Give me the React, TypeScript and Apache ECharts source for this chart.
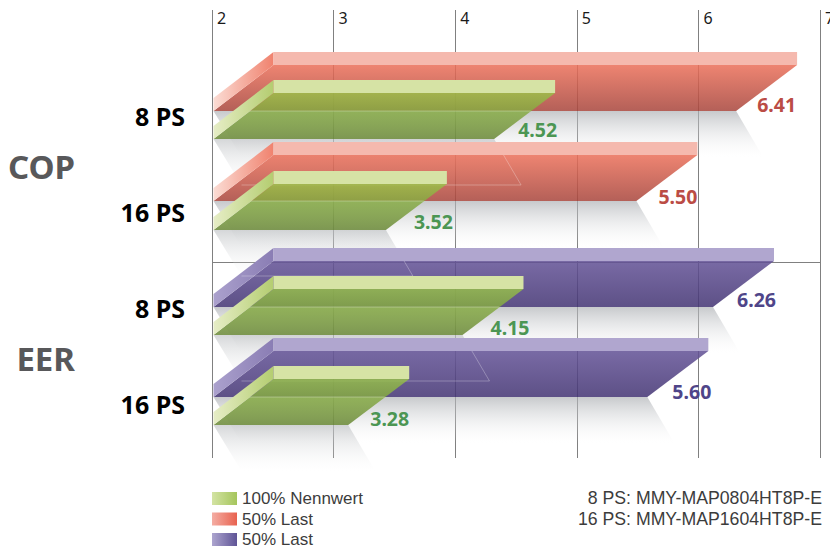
import React, { useEffect, useRef } from "react";
import * as echarts from "echarts";

const rows = ["8 PS", "16 PS", "8 PS", "16 PS"];
const groups = ["COP", "EER"];
const xTicksMin = 2;
const xTicksMax = 7;

// printed values
const copValues = [6.41, 5.5];
const eerValues = [6.26, 5.6];
const nominalValues = [4.52, 3.52, 4.15, 3.28];

// where the front edge of each bar ends on the axis
const copEnds = [6.31, 5.49];
const eerEnds = [6.12, 5.58];
const nominalEnds = [4.32, 3.43, 4.06, 3.12];

const legendNames = ["100% Nennwert", "50% Last", "50% Last"];
const notes = ["8 PS: MMY-MAP0804HT8P-E", "16 PS: MMY-MAP1604HT8P-E"];

// drawing constants
const DX = 60;
const DY = 46;
const LID = 13;
const LEFT_INSET = 1.5;
const backShift = [-5, -11, -1, -7];
const frontShift = [23, 18, 27, 21];
const backLabelAdj = [0, 1, 3, 4];
const frontLabelAdj = [3, 7, 7, 1];
const backLabelY = [-7, -5, -8, -6];
const frontLabelY = [-10, -9, -8, -7];
const FONT = '"Noto Sans"';
const LIGHT = '"Liberation Sans"';

const grad = (x2: number, y2: number, a: string, b: string) =>
  new echarts.graphic.LinearGradient(0, 0, x2, y2, [
    { offset: 0, color: a },
    { offset: 1, color: b },
  ]);

type Skin = {
  top: string;
  bottom: string;
  lid: string;
  sideA: string;
  sideB: string;
  label: string;
};
const redSkin: Skin = {
  top: "rgba(235,112,90,0.86)",
  bottom: "rgba(168,70,61,0.86)",
  lid: "#f5b9ae",
  sideA: "#fbdcd4",
  sideB: "#f0826e",
  label: "#bb4c45",
};
const purpleSkin: Skin = {
  top: "rgba(99,82,150,0.86)",
  bottom: "rgba(67,52,115,0.86)",
  lid: "#b0a6cf",
  sideA: "#aba1cd",
  sideB: "#8a7db4",
  label: "#4f4589",
};
const greenSkin: Skin = {
  top: "rgba(152,195,71,0.8)",
  bottom: "rgba(106,136,56,0.86)",
  lid: "#d6e3a5",
  sideA: "#e6edc6",
  sideB: "#b4cd70",
  label: "#4c9653",
};

function barFrame(api: any, row: number, end: number, shift: number) {
  const [endX, rowY] = api.coord([end, row]);
  const [startX] = api.coord([xTicksMin, row]);
  return { x0: startX + LEFT_INSET, x1: endX, y: rowY + shift };
}

function faces(f: { x0: number; x1: number; y: number }, s: Skin) {
  const { x0, x1, y } = f;
  return [
    {
      type: "polygon",
      shape: { points: [[x0, y], [x0 + DX, y - DY], [x1 + DX + 1, y - DY], [x1, y]] },
      style: { fill: grad(0, 1, s.top, s.bottom) },
    },
    {
      type: "polygon",
      shape: {
        points: [[x0, y - LID], [x0 + DX, y - DY - LID], [x0 + DX, y - DY], [x0, y]],
      },
      style: { fill: grad(1, 0, s.sideA, s.sideB) },
    },
    {
      type: "rect",
      shape: { x: x0 + DX, y: y - DY - LID, width: x1 - x0 + 1, height: LID },
      style: { fill: s.lid },
    },
  ];
}

function valueLabel(f: { x1: number; y: number }, text: string, color: string, adj: number, dy: number) {
  return {
    type: "text",
    style: {
      text,
      x: f.x1 + DX + adj,
      y: f.y + dy,
      fill: color,
      font: `bold 19.5px ${FONT}`,
      align: "right",
      verticalAlign: "middle",
    },
  };
}

const renderBack = (skin: Skin) => (_p: any, api: any) => {
  const row = api.value(0);
  const f = barFrame(api, row, api.value(1), backShift[row]);
  const children: any[] = faces(f, skin);
  if (row > 0) {
    // outline of the previous row's shadow, seen through this bar
    const prev = barFrame(api, row - 1, nominalEnds[row - 1], frontShift[row - 1]);
    const by = prev.y + DY;
    const yBack = f.y - DY;
    const t = (yBack - prev.y) / DY;
    children.push({
      type: "polyline",
      shape: {
        points: [
          [prev.x0 + 28, by],
          [prev.x1 + 27, by],
          [prev.x1 + 27 * t, yBack],
        ],
      },
      style: { fill: "none", stroke: "rgba(255,255,255,0.28)", lineWidth: 1 },
    });
  }
  children.push(valueLabel(f, api.value(2).toFixed(2), skin.label, backLabelAdj[row], backLabelY[row]));
  return { type: "group", children };
};

const renderFront = (_p: any, api: any) => {
  const row = api.value(0);
  const f = barFrame(api, row, api.value(1), frontShift[row]);
  const children: any[] = faces(f, greenSkin);
  // front edge of the bar behind, seen through the green one
  const backY = barFrame(api, row, xTicksMin, backShift[row]).y;
  const t = (f.y - backY) / DY;
  children.push({
    type: "line",
    shape: { x1: f.x0 + DX * t, y1: backY, x2: f.x1 + DX * t, y2: backY },
    style: { stroke: "rgba(255,255,255,0.3)", lineWidth: 1 },
  });
  children.push(valueLabel(f, api.value(2).toFixed(2), greenSkin.label, frontLabelAdj[row], frontLabelY[row]));
  return { type: "group", children };
};

const renderShadow = (_p: any, api: any) => {
  const row = api.value(0);
  const isFront = api.value(2) === 1;
  const shift = isFront ? frontShift[row] : backShift[row];
  const f = barFrame(api, row, api.value(1), shift);
  return {
    type: "polygon",
    shape: {
      points: [[f.x0, f.y], [f.x1, f.y], [f.x1 + 27, f.y + DY], [f.x0 + 28, f.y + DY]],
    },
    style: {
      fill: grad(
        0,
        1,
        isFront ? "rgba(185,188,191,0.6)" : "rgba(175,178,182,0.7)",
        "rgba(240,241,242,0)"
      ),
    },
  };
};

export default function App() {
  const ref = useRef<HTMLDivElement>(null);
  useEffect(() => {
    const chart = echarts.init(ref.current!, undefined, { renderer: "svg" });
    const cop = copEnds.map((e, i) => [i, e, copValues[i]]);
    const eer = eerEnds.map((e, i) => [i + 2, e, eerValues[i]]);
    const nominal = nominalEnds.map((e, i) => [i, e, nominalValues[i]]);
    const shadows = [
      ...copEnds.map((e, i) => [i, e, 0]),
      ...eerEnds.map((e, i) => [i + 2, e, 0]),
      ...nominalEnds.map((e, i) => [i, e, 1]),
    ];
    const common = {
      type: "custom",
      coordinateSystem: "cartesian2d",
      xAxisIndex: 1,
      yAxisIndex: 1,
      encode: { x: 1, y: 0 },
      silent: true,
    };
    chart.setOption({
      animation: false,
      backgroundColor: "#fff",
      grid: [
        { left: 212, top: 10, width: 608, height: 448, outerBoundsMode: "none" },
        { left: 212, top: 68, width: 608, height: 384, outerBoundsMode: "none" },
        { left: 212, top: 70, width: 608, height: 384, outerBoundsMode: "none" },
      ],
      xAxis: [
        {
          gridIndex: 0,
          type: "value",
          position: "top",
          min: xTicksMin,
          max: xTicksMax,
          interval: 1,
          axisLine: { show: false },
          axisTick: { show: false },
          splitLine: { show: true, lineStyle: { color: "#808080", width: 1 } },
          axisLabel: {
            inside: true,
            margin: 0,
            align: "left",
            padding: [0, 0, 0, 5],
            color: "#1a1a1a",
            fontFamily: FONT,
            fontSize: 16,
            showMinLabel: true,
            showMaxLabel: true,
          },
        },
        { gridIndex: 1, type: "value", min: xTicksMin, max: xTicksMax, show: false },
        { gridIndex: 2, type: "value", min: xTicksMin, max: xTicksMax, show: false },
      ],
      yAxis: [
        {
          gridIndex: 0,
          type: "value",
          inverse: true,
          min: 0,
          max: 16,
          interval: 9,
          axisLine: { show: false },
          axisTick: { show: false },
          axisLabel: { show: false },
          splitLine: {
            show: true,
            showMinLine: false,
            showMaxLine: false,
            lineStyle: { color: "#808080", width: 1 },
          },
        },
        {
          gridIndex: 1,
          type: "category",
          inverse: true,
          data: rows,
          axisLine: { show: false },
          axisTick: { show: false },
          splitLine: { show: false },
          axisLabel: {
            margin: 27,
            color: "#000",
            fontFamily: FONT,
            fontWeight: "bold",
            fontSize: 25,
          },
        },
        {
          gridIndex: 2,
          type: "category",
          position: "left",
          inverse: true,
          offset: 137,
          data: groups,
          axisLine: { show: false },
          axisTick: { show: false },
          splitLine: { show: false },
          axisLabel: {
            margin: 0,
            color: "#58585a",
            fontFamily: FONT,
            fontWeight: "bold",
            fontSize: 33,
          },
        },
      ],
      legend: {
        orient: "vertical",
        left: 207,
        top: 485,
        height: 120,
        itemWidth: 25,
        itemHeight: 13,
        itemGap: 3.5,
        selectedMode: false,
        icon: "rect",
        textStyle: { fontFamily: LIGHT, fontSize: 17, color: "#3c3c3c" },
        formatter: (n: string) => n.replace(/ (COP|EER)$/, ""),
        data: [
          { name: legendNames[0], itemStyle: { color: grad(1, 0, "#d3e3a3", "#a5c55c") } },
          { name: `${legendNames[1]} COP`, itemStyle: { color: grad(1, 0, "#f4ada3", "#e8624f") } },
          { name: `${legendNames[2]} EER`, itemStyle: { color: grad(1, 0, "#ada5cf", "#5f5496") } },
        ],
      },
      graphic: notes.map((text, i) => ({
        type: "text",
        right: 8,
        top: 489 + i * 20.5,
        style: { text, font: `17.7px ${LIGHT}`, fill: "#3c3c3c", align: "right" },
      })),
      series: [
        { ...common, name: "shadow", z: 2, renderItem: renderShadow, data: shadows },
        { ...common, name: `${legendNames[1]} COP`, z: 3, renderItem: renderBack(redSkin), data: cop },
        { ...common, name: `${legendNames[2]} EER`, z: 3, renderItem: renderBack(purpleSkin), data: eer },
        { ...common, name: legendNames[0], z: 4, renderItem: renderFront, data: nominal },
      ],
    });
    return () => chart.dispose();
  }, []);
  return <div ref={ref} style={{ position: "absolute", left: 0, top: 0, width: 830, height: 548 }} />;
}
